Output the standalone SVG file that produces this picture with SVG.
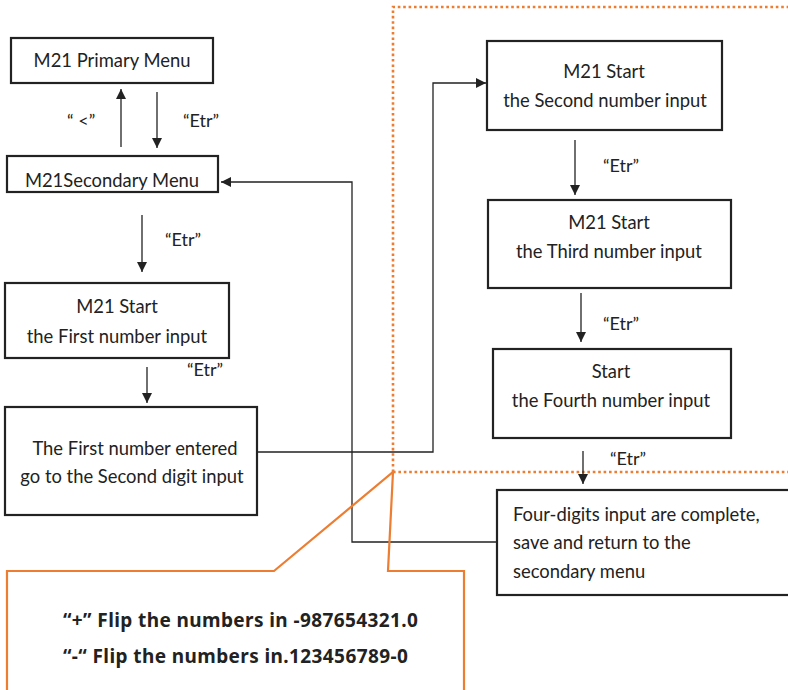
<svg xmlns="http://www.w3.org/2000/svg" width="788" height="690" viewBox="0 0 788 690">
<defs>
<style>
.box{fill:#fff;stroke:#222;stroke-width:2.2}
.t{font-family:Lato,"Liberation Sans",sans-serif;font-size:18.4px;fill:#222}
.c{text-anchor:middle}
.lbl{font-family:Lato,"Liberation Sans",sans-serif;font-size:18px;fill:#222}
.con{fill:none;stroke:#222;stroke-width:1.3}
.dot{fill:none;stroke:#ED7D31;stroke-width:2.6;stroke-dasharray:2.6 2.8}
.call{fill:none;stroke:#ED7D31;stroke-width:2.2}
.b{font-family:"Noto Sans","Liberation Sans",sans-serif;font-weight:bold;font-size:19px;letter-spacing:0.4px;fill:#222}
</style>
<marker id="ah" viewBox="0 0 10 10" refX="10" refY="5" markerWidth="10" markerHeight="10" markerUnits="userSpaceOnUse" orient="auto">
<path d="M0,0 L10,5 L0,10 z" fill="#222"/>
</marker>
</defs>
<rect width="788" height="690" fill="#fff"/>

<g id="highlight">
<path class="dot" d="M393,472 V7 H788"/>
<path class="dot" d="M393,472 H788"/>
</g>

<g id="n-primary"><rect class="box" x="11" y="38" width="202" height="45"/><text class="t c" x="112" y="67">M21 Primary Menu</text></g>
<g id="n-secondary"><rect class="box" x="7" y="156" width="211" height="36"/><text class="t c" x="112" y="187">M21Secondary Menu</text></g>
<g id="n-first"><rect class="box" x="5" y="283" width="224" height="75"/><text class="t c" x="117" y="313">M21 Start</text><text class="t c" x="117" y="343">the First number input</text></g>
<g id="n-entered"><rect class="box" x="5" y="407" width="252" height="108"/><text class="t c" x="135" y="455">The First number entered</text><text class="t c" x="132" y="483">go to the Second digit input</text></g>
<g id="n-second"><rect class="box" x="487" y="41" width="235" height="89"/><text class="t c" x="604" y="78">M21 Start</text><text class="t c" x="605" y="107">the Second number input</text></g>
<g id="n-third"><rect class="box" x="488" y="200" width="243" height="88"/><text class="t c" x="609" y="229">M21 Start</text><text class="t c" x="609" y="258">the Third number input</text></g>
<g id="n-fourth"><rect class="box" x="493" y="349" width="238" height="89"/><text class="t c" x="611" y="378">Start</text><text class="t c" x="611" y="407">the Fourth number input</text></g>
<g id="n-final"><rect class="box" x="497" y="490" width="300" height="105"/><text class="t" x="513" y="521">Four-digits input are complete,</text><text class="t" x="513" y="549">save and return to the</text><text class="t" x="513" y="578">secondary menu</text></g>

<g id="connectors">
<path class="con" d="M121,147 V89" marker-end="url(#ah)"/>
<path class="con" d="M157,92 V148" marker-end="url(#ah)"/>
<path class="con" d="M142,215 V272" marker-end="url(#ah)"/>
<path class="con" d="M147,367 V403" marker-end="url(#ah)"/>
<path class="con" d="M257,452 H433 V83 H486" marker-end="url(#ah)"/>
<path class="con" d="M575,140 V195" marker-end="url(#ah)"/>
<path class="con" d="M581,293 V342" marker-end="url(#ah)"/>
<path class="con" d="M583,451 V484" marker-end="url(#ah)"/>
<path class="con" d="M497,542 H352 V182 H221" marker-end="url(#ah)"/>
<text class="lbl" x="67" y="127">“ &lt;”</text>
<text class="lbl" x="183" y="127">“Etr”</text>
<text class="lbl" x="165" y="246">“Etr”</text>
<text class="lbl" x="187" y="376">“Etr”</text>
<text class="lbl" x="603" y="172">“Etr”</text>
<text class="lbl" x="603" y="330">“Etr”</text>
<text class="lbl" x="610" y="465">“Etr”</text>
</g>

<g id="callout">
<path class="call" d="M7,691 V571 H274 L393,472 L388,571 H464 V691"/>
<text class="b" x="63" y="627">“+” Flip the numbers in -987654321.0</text>
<text class="b" x="63" y="663">“-“ Flip the numbers in.123456789-0</text>
</g>
</svg>
